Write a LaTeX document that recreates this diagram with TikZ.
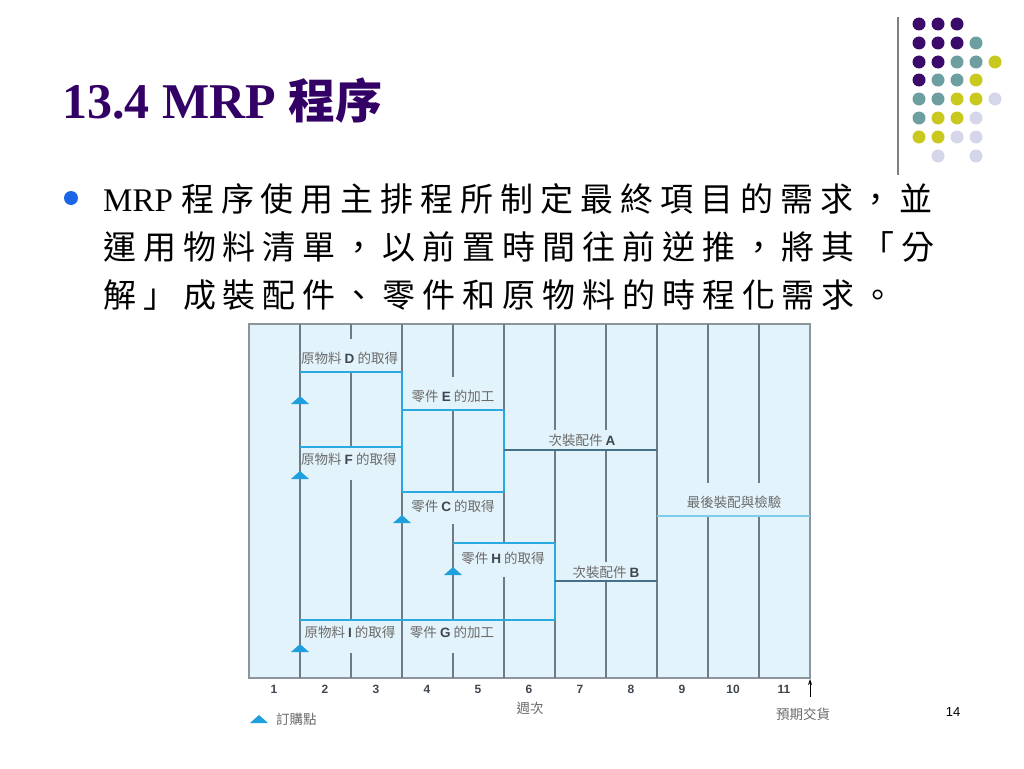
\documentclass[tikz,border=0pt]{standalone}
\usepackage{fontspec}
\setmainfont{Liberation Serif}
\newfontfamily\cjkbody[LetterSpace=21]{Noto Sans CJK TC}
\newfontfamily\cjktitle{Noto Sans CJK TC}
\newfontfamily\lab{Noto Sans CJK TC}
\newfontfamily\arial{Liberation Sans}
\usetikzlibrary{arrows.meta}
\definecolor{titlecol}{HTML}{330066}
\definecolor{bulletcol}{HTML}{1A66E6}
\definecolor{chartbg}{HTML}{E3F3FB}
\definecolor{bordercol}{HTML}{8C959C}
\definecolor{gridcol}{HTML}{6E7A84}
\definecolor{acqcol}{HTML}{2AA8E0}
\definecolor{finalcol}{HTML}{7CCCEC}
\definecolor{subcol}{HTML}{46708A}
\definecolor{tricol}{HTML}{1EA0DC}
\definecolor{labcol}{HTML}{6A6A6A}
\definecolor{letcol}{HTML}{3E4650}
\definecolor{dP}{HTML}{3B0A6B}
\definecolor{dT}{HTML}{6E9FA0}
\definecolor{dY}{HTML}{C8C81E}
\definecolor{dL}{HTML}{D6D6EA}
\newcommand{\lt}[1]{{\arial\bfseries\color{letcol}#1}}
\tikzset{
  grid/.style={draw=gridcol, line width=1.3pt},
  acqbar/.style={draw=acqcol, line width=1.8pt},
  finbar/.style={draw=finalcol, line width=1.8pt},
  subbar/.style={draw=subcol, line width=1.8pt},
  chartlabel/.style={inner sep=0pt, text=labcol, font=\lab\fontsize{13.5}{15}\selectfont},
  weeknum/.style={inner sep=0pt, text=letcol, font=\arial\bfseries\fontsize{12}{14}\selectfont},
  bodyline/.style={anchor=west, inner sep=0pt, font=\fontsize{33}{38}\selectfont},
  ordpt/.pic={\fill[tricol] (-9,0) -- (0,-8) -- (9,0) -- cycle;},
  dot/.style={circle, inner sep=0pt, minimum size=13pt}
}
\begin{document}
\begin{tikzpicture}[x=1pt,y=-1pt]
\useasboundingbox (0,0) rectangle (1024,768);
% decoration top right
\draw[gray, line width=2pt] (898,17) -- (898,175);
\foreach \cx/\cy/\cc [count=\i] in {
 919/24/dP,938/24/dP,957/24/dP,
 919/43/dP,938/43/dP,957/43/dP,976/43/dT,
 919/62/dP,938/62/dP,957/62/dT,976/62/dT,995/62/dY,
 919/80/dP,938/80/dT,957/80/dT,976/80/dY,
 919/99/dT,938/99/dT,957/99/dY,976/99/dY,995/99/dL,
 919/118/dT,938/118/dY,957/118/dY,976/118/dL,
 919/137/dY,938/137/dY,957/137/dL,976/137/dL,
 938/156/dL,976/156/dL}
  \node[dot, fill=\cc] (dot\i) at (\cx,\cy) {};
% title
\node[anchor=base west, inner sep=0pt, text=titlecol, font=\bfseries\fontsize{50}{60}\selectfont] (title) at (62,118) {13.4 MRP {\cjktitle\fontsize{47}{56}\selectfont 程序}};
% bullet
\node[circle, fill=bulletcol, inner sep=0pt, minimum size=14pt] (bullet) at (71,198) {};
\node[bodyline] (line1) at (103,199) {MRP {\cjkbody 程序使用主排程所制定最終項目的需求，並}};
\node[bodyline] (line2) at (103,247) {\cjkbody 運用物料清單，以前置時間往前逆推，將其「分};
\node[bodyline] (line3) at (103,295) {\cjkbody 解」成裝配件、零件和原物料的時程化需求。};
% chart
\filldraw[fill=chartbg, draw=bordercol, line width=1.3pt] (249,324) rectangle (810,678);
\draw[grid] (300,324) -- (300,678);
\draw[grid] (351,324) -- (351,339) (351,372) -- (351,447) (351,480) -- (351,620) (351,653) -- (351,678);
\draw[grid] (402,324) -- (402,678);
\draw[grid] (453,324) -- (453,377) (453,410) -- (453,492) (453,524) -- (453,620) (453,653) -- (453,678);
\draw[grid] (504,324) -- (504,543) (504,577) -- (504,678);
\draw[grid] (555,324) -- (555,430) (555,450) -- (555,678);
\draw[grid] (606,324) -- (606,430) (606,450) -- (606,562) (606,581) -- (606,678);
\draw[grid] (657,324) -- (657,678);
\draw[grid] (708,324) -- (708,483) (708,516) -- (708,678);
\draw[grid] (759,324) -- (759,483) (759,516) -- (759,678);
% bars
\draw[acqbar] (300,372) -- (402,372);
\draw[acqbar] (300,447) -- (402,447);
\draw[acqbar] (402,372) -- (402,492);
\draw[acqbar] (402,410) -- (504,410);
\draw[acqbar] (402,492) -- (504,492);
\draw[acqbar] (504,410) -- (504,492);
\draw[acqbar] (453,543) -- (555,543);
\draw[acqbar] (300,620) -- (555,620);
\draw[acqbar] (555,543) -- (555,620);
\draw[subbar] (504,450) -- (657,450);
\draw[subbar] (555,581) -- (657,581);
\draw[finbar] (657,516) -- (810,516);
% labels
\node[chartlabel, anchor=west] (labD) at (301,358) {原物料 \lt{D} 的取得};
\node[chartlabel] (labE) at (453,396) {零件 \lt{E} 的加工};
\node[chartlabel, anchor=west] (labF) at (301,459) {原物料 \lt{F} 的取得};
\node[chartlabel] (labC) at (453,506) {零件 \lt{C} 的取得};
\node[chartlabel] (labA) at (582,440) {次裝配件 \lt{A}};
\node[chartlabel] (labFin) at (734,502) {最後裝配與檢驗};
\node[chartlabel] (labH) at (503,558) {零件 \lt{H} 的取得};
\node[chartlabel] (labB) at (606,572) {次裝配件 \lt{B}};
\node[chartlabel] (labI) at (350,632) {原物料 \lt{I} 的取得};
\node[chartlabel] (labG) at (452,632) {零件 \lt{G} 的加工};
% order points
\pic at (300,404) {ordpt};
\pic at (300,479) {ordpt};
\pic at (402,523) {ordpt};
\pic at (453,575) {ordpt};
\pic at (300,652) {ordpt};
% axis
\foreach \k in {1,...,11}
  \node[weeknum] (wk\k) at ({274+51*(\k-1)},689) {\k};
\node[chartlabel] (weeks) at (530,708) {週次};
\coordinate (arrbot) at (810,697);
\coordinate (arrtop) at (810,679);
\draw[black, line width=0.8pt, -{Stealth[length=6pt,width=4pt]}] (arrbot) -- (arrtop);
\node[chartlabel] (due) at (803,714) {預期交貨};
% legend
\pic at (259,723) {ordpt};
\node[chartlabel, anchor=west] (legend) at (276,719) {訂購點};
% page number
\node[inner sep=0pt, font=\arial\fontsize{13}{15}\selectfont] (pagenum) at (953,712) {14};
\end{tikzpicture}
\end{document}
